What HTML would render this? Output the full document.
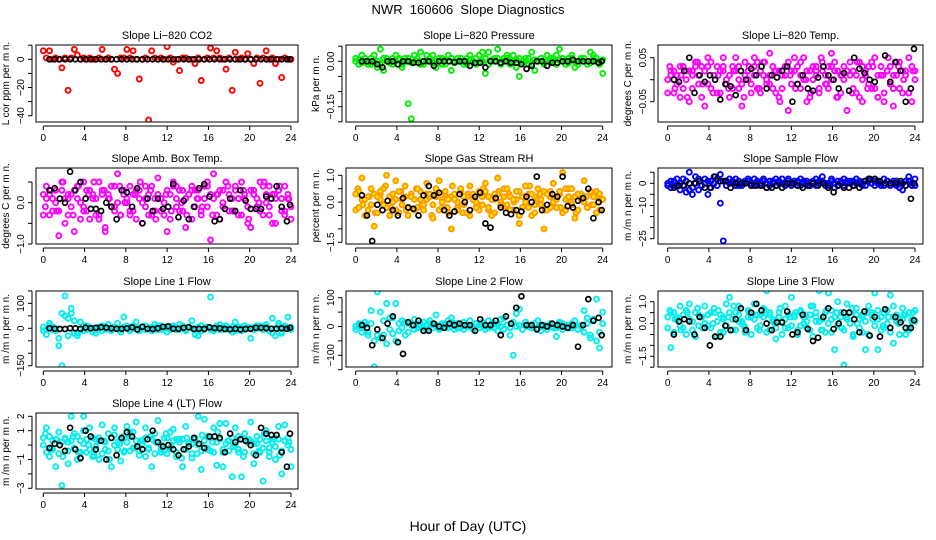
<!DOCTYPE html>
<html><head><meta charset="utf-8"><style>
html,body{margin:0;padding:0;background:#fff;}
svg{display:block;font-family:"Liberation Sans",sans-serif;}
</style></head><body>
<svg id="chart" width="936" height="540" viewBox="0 0 936 540" xmlns="http://www.w3.org/2000/svg">
<rect width="936" height="540" fill="#fff"/>
<text x="468" y="14" text-anchor="middle" font-size="13" style="white-space:pre">NWR  160606  Slope Diagnostics</text>
<text x="468" y="531" text-anchor="middle" font-size="14">Hour of Day (UTC)</text>
</svg>
<script>
const hoursC=[0,0.3,0.6,0.9,1.2,1.5,1.8,2.1,2.4,2.7,3.0,3.3,3.6,3.9,4.2,4.5,4.8,5.1,5.4,5.7,6.0,6.3,6.6,6.9,7.2,7.5,7.8,8.1,8.4,8.7,9.0,9.3,9.6,9.9,10.2,10.5,10.8,11.1,11.4,11.7,12.0,12.3,12.6,12.9,13.2,13.5,13.8,14.1,14.4,14.7,15.0,15.3,15.6,15.9,16.2,16.5,16.8,17.1,17.4,17.7,18.0,18.3,18.6,18.9,19.2,19.5,19.8,20.1,20.4,20.7,21.0,21.3,21.6,21.9,22.2,22.5,22.8,23.1,23.4,23.7,24.0];
const hoursB=[0.6,1.1,1.6,2.1,2.6,3.1,3.6,4.1,4.6,5.1,5.6,6.1,6.6,7.1,7.6,8.1,8.6,9.1,9.6,10.1,10.6,11.1,11.6,12.1,12.6,13.1,13.6,14.1,14.6,15.1,15.6,16.1,16.6,17.1,17.6,18.1,18.6,19.1,19.6,20.1,20.6,21.1,21.6,22.1,22.6,23.1,23.6,23.9];
const hoursE=[0.2,0.7,1.3,1.9,2.4,2.9,3.4,3.9,4.4,4.9,5.4,5.9,6.4,6.9,7.4,7.9,8.4,8.9,9.4,9.9,10.4,10.9,11.4,11.9,12.4,12.9,13.4,13.9,14.4,14.9,15.4,15.9,16.4,16.9,17.4,17.9,18.4,18.9,19.4,19.9,20.4,20.9,21.4,21.9,22.4,22.9,23.4,23.8];
const xTicks=[0,4,8,12,16,20,24];

const co2A=[6,1,6,0,1,0,-6,1,-22,1,7,3,0,1,0,1,0,0,1,7,0,1,0,-7,-10,1,1,7,1,6,0,-14,0,1,-43,6,1,0,1,0,9,1,-2,0,-8,1,1,0,0,-3,1,-15,0,1,8,1,6,1,0,-7,1,-22,5,0,1,0,4,0,-3,1,-17,1,6,0,1,-3,0,-13,1,0,0];
const co2K=[0,0,0,0,0,0,0,0,0,0,0,0,0,0,0,0,0,0,0,0,0,0,0,0,0,0,0,0,0,0,0,0,0,0,0,0,0,0,0,0,0,0,0,0,0,0,0,0];
const presA=[0.01,-0.01,0.02,0,-0.01,0.01,0.02,-0.02,0.04,-0.03,0.01,0,-0.01,0.02,0.01,-0.02,0.01,-0.14,-0.19,0.02,0,0.03,-0.01,0.02,0,0.02,-0.02,0,0.01,-0.01,0.02,-0.03,0,0.01,0,-0.01,0.01,0.02,0,-0.01,0.02,0.03,-0.04,0.03,0,0.01,0.04,-0.01,0.01,0.02,0,0.02,-0.02,-0.05,0,0.01,-0.01,0.03,-0.03,0,0.01,-0.01,0.02,0,0.01,0.02,0.04,0,-0.01,0.01,0.02,-0.02,0,0.01,0,-0.01,0.03,0.02,0.01,0,-0.04];
const presB=[0,0.005,-0.005,0.01,0,-0.01,0.005,0,-0.01,0.01,0,-0.005,0.01,0,0.005,-0.01,0,0.01,-0.005,0,0.01,-0.01,0,0.005,0.01,-0.005,0,0.01,-0.01,0.005,0,0.01,-0.005,0,0.01,0,-0.01,0.005,0,0.01,-0.005,0,0.01,-0.01,0.005,0,0.01,-0.005,0,0.01,-0.01,0,0.005,0.01,-0.005,0,0.01,-0.01,0.005,0,0.01,-0.005,0,0.01,0,-0.01,0.005,0.01,0,-0.005,0.01,0,-0.01,0.005,0.01,0,-0.005,0.01,0,-0.01,0.005];
const presK=[0,0,0,-0.01,-0.02,0,0,-0.01,0,0,-0.005,-0.005,0,0,-0.015,0,0,0,-0.003,0,0,-0.015,-0.005,-0.005,-0.02,0,0,-0.005,0,-0.005,-0.005,-0.01,-0.025,-0.015,0,0,-0.015,-0.005,-0.005,0,0,0.005,0,0,0,0,-0.005,0];
const tempA=[0,0.02,-0.03,0.01,0.03,-0.02,0.02,-0.05,0.01,0.04,-0.01,0.03,-0.06,0.05,-0.02,0.01,0.03,-0.03,0.02,0,-0.04,0.03,0.05,-0.02,-0.06,0.01,0.02,-0.01,0.03,0.04,-0.03,0.01,0,0.06,-0.02,0.02,-0.04,0.01,0.03,-0.07,0.02,0.05,-0.01,0.01,0.05,-0.05,0.02,0,0.03,-0.03,0.04,0.01,-0.02,0.06,0.02,-0.04,0.01,0.03,-0.07,0.01,0.02,-0.03,0.04,-0.05,0.01,0.03,-0.02,0.05,-0.04,0.01,-0.05,0.02,0.03,-0.06,0.01,0.04,-0.03,0.02,0.05,-0.05,0.02];
const tempB=[-0.03,0.01,0.02,-0.01,-0.04,0.03,0,0.02,-0.02,0.03,0.01,-0.04,0.02,-0.01,0.04,0.01,-0.03,0.02,0.03,-0.01,0.01,-0.02,0.02,0.03,-0.01,0.04,0,-0.03,0.05,-0.02,0.02,0.04,-0.01,0.01,0.03,-0.03,0.02,-0.02,0.01,0.04,-0.01,0.02,0.03,-0.02,0,0.02,-0.04,0.03,0.01,-0.02,0.02,-0.01,0.03,0,0.04,0.02,-0.03,0,0.02,0.04,-0.02,0.01,-0.04,0.03,0.02,-0.01,0.04,-0.02,0.01,0.03,-0.03,0.02,-0.01,0.01,0.04,-0.02,0.02,0.01,-0.03,0.03,0];
const tempC=[0.03,-0.02,0.01,-0.04,0.02,0.04,-0.01,0.03,-0.03,0.01,0.05,-0.02,0.02,0,-0.04,0.03,0.01,-0.02,0.04,-0.01,0.02,-0.05,0.03,0.01,-0.02,0.04,0,-0.03,0.02,0.05,-0.01,0.03,-0.04,0.01,0.02,-0.03,0.04,0,-0.02,0.03,-0.04,0.01,0.05,-0.02,0.03,0,-0.03,0.02];
const tempK=[0,-0.005,0.02,0.05,-0.03,0.01,-0.005,0.01,0,-0.045,-0.01,-0.015,-0.035,0.02,0,0.025,0.01,0.03,-0.02,0.01,0.005,0.02,0.03,-0.05,-0.01,0.01,-0.02,-0.025,0.005,0.03,0.01,0,-0.02,0.015,-0.025,0.05,0.025,0.015,0,-0.005,-0.11,0.055,-0.005,0.04,0.02,-0.05,-0.02,0.07];
const ambA=[0.2,0.4,-0.3,0.1,0.3,-0.2,0.5,-0.5,0.2,-0.1,0.3,0.1,-0.4,0.5,-0.2,0.3,0.1,-0.3,0.5,0.2,-0.6,0.1,0.4,-0.1,0.7,-0.3,0.2,0,0.4,-0.2,0.3,0.1,-0.5,0.4,0.2,-0.3,0.1,0.6,-0.2,0,0.3,-0.4,0.5,0.1,-0.2,0.3,-0.6,0.2,0.4,-0.1,0.3,-0.3,0.1,0.4,-0.9,0.7,0.2,-0.4,0.3,0.5,-0.2,0.1,0.4,-0.3,0.5,0.1,-0.5,0.3,0.2,-0.1,0.5,-0.3,0.2,0.4,-0.5,0.1,0.3,-0.2,0.4,0.1,-0.1];
const ambB=[-0.3,0.1,0.2,-0.2,0,-0.8,0.3,0.1,-0.3,0.2,-0.7,0.4,0,-0.2,0.3,-0.4,0.2,0.1,-0.3,0.3,-0.7,0.2,-0.1,0.4,0,-0.3,0.3,0.1,-0.2,0.2,-0.4,0.3,0,0.1,-0.3,0.4,-0.2,0.2,0.1,-0.3,-0.7,0.2,0.4,-0.1,0.3,-0.2,0.1,0.2,-0.4,0.3,0.1,-0.2,0.4,-0.1,0.2,0.1,-0.3,0.3,-0.1,0.5,0.2,-0.2,0.3,0.1,-0.3,0.2,-0.1,-0.6,0.3,0.1,-0.2,0.4,0,-0.3,0.2,-0.5,0.3,0.1,-0.2,0.2,-0.4];
const ambC=[-0.1,0.3,-0.2,0.5,0.1,-0.3,0.4,-0.1,0.2,0.5,-0.4,0.3,0.1,-0.2,0.4,0,-0.3,0.2,0.5,-0.1,0.3,-0.4,0.1,0.2,-0.2,0.4,0,-0.3,0.3,0.1,-0.1,0.5,-0.3,0.2,0,0.4,-0.2,0.1,0.3,-0.4,0.2,0,0.5,-0.1,0.2,0.4,-0.3,0.1];
const ambK=[0.3,0.35,0.1,0.0,0.75,0.3,0.5,0.1,-0.15,-0.15,-0.2,0.0,-0.1,-0.4,0.3,0.25,-0.1,0.35,-0.5,0.1,-0.2,0.1,-0.15,-0.1,0.45,-0.35,0.05,-0.4,-0.1,0.35,0.45,0.15,-0.45,-0.4,-0.15,0.1,-0.2,0.3,0.05,-0.15,-0.15,-0.15,0.15,0.1,0.4,-0.1,-0.45,-0.05];
const rhA=[0.3,-0.2,0.9,0.1,-0.3,0.5,-0.9,0.2,0.4,-0.1,1.0,-0.5,0.3,0.8,-0.4,0.1,0.6,-0.2,0.2,-0.3,0.5,0.1,-0.1,0.7,0.3,-0.6,0.2,0.8,-0.2,0.4,0.1,-1.0,0.3,-0.3,0.5,0.2,-0.4,0.6,0.1,-0.2,0.4,-0.1,0.7,0.2,-0.5,0.3,0.9,-0.1,0.2,0.5,-0.3,0.1,0.4,-0.8,0.2,0.6,-0.2,0.3,-0.4,0.5,0.1,-1.0,0.3,-0.2,0.7,0.1,0.4,1.1,-0.3,0.2,0.5,-0.6,0.3,0.1,0.8,-0.2,0.4,0.2,-0.4,0.3,0.1];
const rhB=[-0.3,0.4,0.1,-0.5,0.2,-0.1,0.3,-0.4,0.1,0.5,-0.2,0.2,0,-0.3,0.4,-0.1,0.2,-0.5,0.3,0.1,-0.2,0.4,-0.3,0.1,0.2,-0.1,0.5,-0.3,0,0.3,-0.4,0.2,0.1,-0.2,0.4,-0.1,0.2,-0.5,0.3,0,-0.3,0.2,0.4,-0.2,0.1,-0.4,0.3,0,0.5,-0.1,0.2,-0.3,0.1,0.4,-0.2,0,0.3,-0.5,0.2,0.1,-0.1,0.4,-0.3,0.2,0,-0.2,0.3,-0.4,0.1,0.5,-0.1,0.2,-0.3,0.3,0,-0.2,0.4,-0.1,0.2,-0.3,0.1];
const rhC=[0.5,-0.1,0.2,-0.4,0.3,0.6,-0.2,0.1,0.4,-0.3,0.2,0.5,-0.1,0.3,-0.5,0.4,0.1,-0.2,0.6,0,-0.4,0.3,0.2,-0.1,0.5,-0.3,0.1,0.4,-0.2,0.3,0,-0.5,0.2,0.6,-0.1,0.3,-0.3,0.4,0.1,-0.2,0.5,0,-0.4,0.3,0.2,-0.1,0.4,0.1];
const rhK=[0.25,-0.5,-1.45,-0.1,-0.3,0.05,-0.3,-0.5,0.15,-0.2,-0.25,-0.5,0.25,0.6,0.25,0.35,-0.3,-0.5,-0.35,0.3,0.0,-0.3,0.2,0.35,-0.8,-0.95,0.15,-0.2,-0.4,-0.45,-0.3,-0.35,0.2,0.0,0.95,-0.3,-0.1,0.3,0.2,0.95,-0.15,-0.2,0.05,0.15,0.5,-0.6,0.0,-0.3];
const sfA=[0,1,-1,2,0,-1,1,-3,-5,3,2,-1,0,1,-2,3,2,-9,-26,1,0,1,2,-1,0,1,2,0,-1,1,0,2,-2,1,0,2,1,0,-1,2,0,1,-1,2,0,1,-1,0,2,1,3,-1,0,1,-2,1,0,2,1,0,1,2,0,-1,1,2,0,1,0,-1,2,1,0,1,-1,-2,0,1,3,-1,2];
const sfB=[-1,-2,1,-1,-3,2,-4,5,-2,0,-3,-1,2,-5,1,0,-1,4,1,-1,2,0,-1,1,-1,0,1,-1,2,0,-1,1,0,-1,1,-1,0,2,0,1,-1,0,1,-1,1,0,-1,1,-1,0,1,0,-1,2,0,-1,1,-1,0,1,-1,0,1,0,-1,1,0,-1,1,0,-1,1,-1,0,1,0,-3,-1,1,0,-1];
const sfK=[-2,-1,-1,0,0,1,-2,-2,3,1,1,-2,0,0,0,-1,-1,-1,-2,-2,-1,-2,0,0,-1,-2,-1,0,-1,0,-2,-4,-1,-2,-2,-1,-2,1,2,2,1,0,0,0,1,-1,-7,0];
const l1A=[-10,-25,20,5,-10,-70,-150,130,40,80,30,-20,25,-10,10,5,-15,-20,0,10,-5,15,-10,5,20,-15,45,0,-10,10,25,-5,5,10,0,-10,15,-5,10,0,-15,5,10,-5,15,0,-10,5,30,-25,-30,10,0,5,125,-10,0,15,-5,10,0,-15,25,5,-10,10,0,-40,5,0,10,-5,15,-10,40,-30,20,-20,10,45,5];
const l1B=[5,-5,10,-5,0,-40,60,50,-30,60,-20,-30,-5,10,-5,5,0,-5,5,-10,5,0,-5,5,0,-5,5,10,-5,0,5,-10,5,-5,0,5,-5,10,-5,5,0,-5,5,0,-5,10,-5,5,0,-5,5,-10,0,5,-5,0,10,-5,5,0,-5,5,-10,0,5,-5,5,0,-5,10,0,-5,5,-10,-20,0,10,-15,5,0,-5];
const l1K=[0,-2,-3,-3,0,0,-2,3,0,2,4,3,0,-2,-2,0,4,-5,6,-2,-3,0,6,8,-2,-2,2,4,-3,-2,-3,4,1,0,-3,-4,-2,-5,-3,-2,2,2,1,-2,-2,0,-2,2];
const l2A=[0,10,-20,5,-30,55,-140,120,50,-30,80,-10,30,80,-15,20,-30,10,5,25,-5,10,15,-10,20,5,40,-5,10,0,20,30,-10,10,-5,15,0,20,-10,10,5,15,-10,20,0,10,-15,25,30,5,-30,-100,45,60,-10,15,5,-5,10,20,-15,5,0,10,-5,-35,15,10,0,-5,10,20,-10,5,55,30,-40,25,95,-75,50];
const l2B=[-10,5,-5,15,-20,10,-50,-30,-40,20,-60,30,-25,-50,10,-5,15,-20,5,-10,10,0,-5,5,10,-5,5,-10,5,10,-5,0,10,-5,5,-10,5,0,-5,10,-5,5,0,-5,10,-5,5,0,-10,5,-5,15,0,5,-10,5,0,-5,10,-5,0,5,-10,5,0,-5,10,-10,5,0,-5,5,-10,0,-20,10,-30,20,-50,-20,10];
const l2K=[5,-5,-65,-10,-40,10,35,-55,-95,15,5,20,-15,-15,10,0,-5,10,5,10,5,5,-15,25,5,5,20,-30,35,10,65,105,5,5,-10,5,0,10,5,0,-5,5,-70,5,95,20,30,-30];
const l3A=[0.3,-1.1,0.5,0.2,0.8,-0.2,0.6,0.9,0.1,-0.6,0.4,0.3,0.8,-0.1,0.5,0.7,-0.6,0.4,0.2,0.9,1.2,-0.3,0.5,0.8,0.1,-0.4,0.6,0.3,0.9,-0.2,0.4,0.7,1.5,-0.3,0.2,-0.7,0.5,0.1,0.8,-0.2,1.2,0.4,-0.5,0.6,0.3,0.1,-0.3,0.8,0.5,1.5,0.2,-0.4,1.4,0.6,-1.2,1.0,0.3,-1.9,0.9,0.5,-0.5,0.7,0.2,0.4,-1.2,0.8,0.5,1.4,-1.2,0.3,-0.2,0.6,1.3,-0.9,0.4,0.2,0.7,-0.5,0.5,0.1,0.6];
const l3B=[-0.2,0.5,-0.4,0.3,-0.1,0.4,-0.5,0.2,-0.3,0.5,-0.1,0.3,0,0.4,-0.2,0.5,0.1,-0.4,0.3,-0.1,0.5,0.2,-0.3,0.4,0,-0.2,0.3,-0.5,0.2,0.4,-0.1,0.3,-0.4,0.5,0.1,-0.2,0.3,-0.5,0.2,0.4,-0.1,0.3,-0.3,0.5,0,-0.2,0.4,-0.6,0.3,0.1,-0.3,0.5,0,-0.4,0.3,-0.1,0.5,-0.3,0.2,0,-0.6,0.4,-0.2,0.3,0.1,-0.5,0.4,-0.1,0.2,-0.3,0.5,0,-0.4,0.3,0.1,-0.5,0.2,0.4,-0.3,0.2,0.1];
const l3C=[0.6,0.2,-0.3,0.5,0.1,0.7,-0.2,0.4,0,0.6,-0.4,0.3,0.8,0.1,-0.1,0.5,0.2,-0.3,0.6,0.4,0,0.7,-0.2,0.3,0.5,-0.1,0.4,0.8,0.1,-0.3,0.6,0.2,0.5,-0.2,0.3,0.7,0,-0.4,0.5,0.2,0.6,-0.1,0.3,0.8,0,0.4,-0.2,0.5];
const l3K=[-0.5,0.1,0.2,0.1,-0.5,0.3,-0.2,-1.0,-0.6,-0.6,-0.1,-0.3,0.2,0.7,-0.3,0.5,0.9,0.6,0,-0.3,0.05,0.05,0.55,-0.5,-0.4,0.4,-0.25,-0.8,-0.65,0.3,0.7,-0.25,0.0,0.5,0.5,0.2,-0.4,0.55,-0.55,0.3,-0.6,0.65,-0.2,0.3,0.05,-0.2,-0.2,0.15];
const l4A=[0.5,1.2,-0.8,0.3,-1.5,0.9,-2.8,0.4,-1.3,2,0.8,-1.0,0.3,2,-0.5,1.2,-0.8,0.4,-1.0,1.4,-0.3,0.8,-1.5,1.2,0.2,-1.1,0.6,1.3,-0.4,0.9,1.6,-0.7,0.3,1.2,-0.2,-1.5,0.8,1.7,-0.3,0.5,-0.6,0.9,1.1,-0.8,0.4,-1.5,1.3,0.2,-0.9,0.5,2.0,-1.7,1.8,0.6,-0.4,1.2,-1.4,1.5,-1.5,1.5,0.3,-2.2,1.2,-0.5,-2.2,0.8,0.2,1.6,-1.3,0.6,-0.5,-2.5,1.0,-0.8,0.4,-1.0,1.3,-2.0,1.4,0.5,-1.5];
const l4B=[0,-0.5,0.6,-0.3,0.4,-0.6,0.2,0.5,-0.4,0.3,-0.2,0.6,-0.5,0.1,0.4,-0.3,0.5,-0.1,0.3,-0.6,0.2,-0.4,0.5,0,-0.3,0.4,-0.5,0.2,0.6,-0.2,0.3,-0.4,0.1,0.5,-0.3,0.4,-0.6,0.2,0,-0.4,0.5,-0.2,0.3,-0.5,0.2,0.4,-0.3,0.1,-0.6,0.4,0,-0.4,0.3,-0.2,0.5,-0.5,0.2,0.4,-0.3,0.1,-0.4,0.5,0,-0.3,0.4,-0.5,0.2,0.3,-0.6,0.1,0.4,-0.2,0.3,-0.5,0.2,-0.1,0.4,-0.4,0.3,0,-0.3];
const l4C=[0.8,-0.3,0.4,-0.8,0.2,0.6,-0.5,1.0,0,-0.7,0.5,0.3,-1.0,0.7,0.1,-0.4,0.9,-0.2,0.3,-0.8,0.6,0.2,-0.5,0.8,-0.1,0.4,-0.9,0.5,0.1,-0.6,0.7,-0.3,0.2,0.9,-0.5,0.3,-0.1,0.6,-0.8,0.4,0.1,-0.4,0.8,-0.2,0.5,-0.7,0.3,0.2];
const l4K=[-0.2,0.1,0,-0.4,1.2,-0.3,-0.9,1.0,0.6,-0.3,0.3,-1.0,0.5,-0.7,0.5,0.9,0.6,-0.1,-0.3,0.4,1.0,0.2,-0.1,0.0,-0.3,-0.7,-0.3,-0.1,0.5,0.1,-0.2,0.6,0.6,0.5,-0.5,0.8,0.2,0.4,0.3,0.0,-0.7,1.2,0.8,0.7,0.7,-0.5,-1.5,0.8];

const NS="http://www.w3.org/2000/svg";
const svg=document.getElementById('chart');
function mk(tag,attrs,parent){const e=document.createElementNS(NS,tag);for(const k in attrs)e.setAttribute(k,attrs[k]);(parent||svg).appendChild(e);return e;}
const cols=[{l:36,r:298,x0:43.3,x24:291},{l:346,r:612,x0:355.7,x24:602.7},{l:658,r:923,x0:667.7,x24:915}];
const rows=[{t:45,b:122},{t:168,b:244},{t:291,b:367},{t:413,b:489}];
const panels=[
 {id:'co2',title:'Slope Li\u2212820 CO2',yt:'L cor ppm per m n.',c:0,r:0,vA:0,pA:59.3,vB:-40,pB:115.7,ticks:[10,0,-10,-20,-30,-40],labels:['0','\u221220','\u221240'],lv:[0,-20,-40],col:'#ff0000',fill:'none',A:co2A,B:null,E:null,K:co2K},
 {id:'pressure',title:'Slope Li\u2212820 Pressure',yt:'kPa per m n.',c:1,r:0,vA:0,pA:61.3,vB:-0.15,pB:106.7,ticks:[0.05,0,-0.05,-0.1,-0.15,-0.2],labels:['0.00','\u22120.15'],lv:[0,-0.15],col:'#00ee00',fill:'none',A:presA,B:presB,E:null,K:presK},
 {id:'temp',title:'Slope Li\u2212820 Temp.',yt:'degrees C per m n.',c:2,r:0,vA:0.05,pA:57.7,vB:-0.05,pB:101.7,ticks:[0.05,0,-0.05],labels:['0.05','\u22120.05'],lv:[0.05,-0.05],col:'#ff00ff',fill:'none',A:tempA,B:tempB,E:tempC,K:tempK},
 {id:'amb-box-temp',title:'Slope Amb. Box Temp.',yt:'degrees C per m n.',c:0,r:1,vA:0,pA:202.7,vB:-1,pB:244,ticks:[0.5,0,-0.5,-1],labels:['0.0','\u22121.0'],lv:[0,-1],col:'#ff00ff',fill:'none',A:ambA,B:ambB,E:ambC,K:ambK},
 {id:'gas-stream-rh',title:'Slope Gas Stream RH',yt:'percent per m n.',c:1,r:1,vA:1,pA:175.3,vB:-1.5,pB:242.3,ticks:[1,0.5,0,-0.5,-1,-1.5],labels:['1.0','0.0','\u22121.5'],lv:[1,0,-1.5],col:'#ff9900',fill:'#ffee00',A:rhA,B:rhB,E:rhC,K:rhK},
 {id:'sample-flow',title:'Slope Sample Flow',yt:'m /m n per m n.',c:2,r:1,vA:0,pA:183.3,vB:-25,pB:238.7,ticks:[5,0,-5,-10,-15,-20,-25],labels:['0','\u221210','\u221225'],lv:[0,-10,-25],col:'#0000ff',fill:'none',A:sfA,B:sfB,E:null,K:sfK},
 {id:'line1-flow',title:'Slope Line 1 Flow',yt:'m /m n per m n.',c:0,r:2,vA:0,pA:328.3,vB:-150,pB:365.7,ticks:[150,100,50,0,-50,-100,-150],labels:['100','0','\u2212150'],lv:[100,0,-150],col:'#00eeee',fill:'none',A:l1A,B:l1B,E:null,K:l1K},
 {id:'line2-flow',title:'Slope Line 2 Flow',yt:'m /m n per m n.',c:1,r:2,vA:100,pA:297.7,vB:-100,pB:355.3,ticks:[100,50,0,-50,-100,-150],labels:['100','0','\u2212100'],lv:[100,0,-100],col:'#00eeee',fill:'none',A:l2A,B:l2B,E:null,K:l2K},
 {id:'line3-flow',title:'Slope Line 3 Flow',yt:'m /m n per m n.',c:2,r:2,vA:1,pA:301.7,vB:-1.5,pB:356.3,ticks:[1,0.5,0,-0.5,-1,-1.5,-2],labels:['1.0','0.0','\u22121.5'],lv:[1,0,-1.5],col:'#00eeee',fill:'none',A:l3A,B:l3B,E:l3C,K:l3K},
 {id:'line4-flow',title:'Slope Line 4 (LT) Flow',yt:'m /m n per m n.',c:0,r:3,vA:2,pA:416.3,vB:-3,pB:488.3,ticks:[2,1,0,-1,-2,-3],labels:['2','1','\u22121','\u22123'],lv:[2,1,-1,-3],col:'#00eeee',fill:'none',A:l4A,B:l4B,E:l4C,K:l4K}
];
panels.forEach(p=>{
 const C=cols[p.c],R=rows[p.r];
 const g=mk('g',{});
 
 
 const xs=h=>C.x0+h/24*(C.x24-C.x0);
 const ys=v=>p.pA+(v-p.vA)*(p.pB-p.pA)/(p.vB-p.vA);
 const clip='clip-'+p.id;
 const cp=mk('clipPath',{id:clip},g);mk('rect',{x:C.l,y:R.t,width:C.r-C.l,height:R.b-R.t},cp);
 const t=mk('text',{x:(C.l+C.r)/2,y:R.t-6,'text-anchor':'middle','font-size':11},g);t.textContent=p.title;
 
 
 const pts=mk('g',{'clip-path':'url(#'+clip+')'},g);
 
 
 const drawSet=(arr,hrs,stroke,fill,sw)=>{if(!arr)return;arr.forEach((v,i)=>{if(i>=hrs.length)return;const c=mk('circle',{cx:xs(hrs[i]).toFixed(1),cy:ys(v).toFixed(1),r:2.5,fill:fill,stroke:stroke,'stroke-width':sw},pts);
  
  });};
 drawSet(p.E,hoursE,p.col,p.fill,1.9);
 drawSet(p.B,hoursC,p.col,p.fill,1.9);
 drawSet(p.A,hoursC,p.col,p.fill,1.9);
 drawSet(p.K,hoursB,'#000','none',1.7);
 const box=mk('rect',{x:C.l,y:R.t,width:C.r-C.l,height:R.b-R.t,fill:'none',stroke:'#000','stroke-width':1},g);
 
 
 const ax=C.l-4;
 const ty=p.ticks.map(ys);
 mk('line',{x1:ax,x2:ax,y1:Math.min(...ty),y2:Math.max(...ty),stroke:'#000'},g);
 p.ticks.forEach(v=>mk('line',{x1:ax-4,x2:ax,y1:ys(v),y2:ys(v),stroke:'#000'},g));
 p.labels.forEach((s,i)=>{const y=ys(p.lv[i]);const lt=mk('text',{x:0,y:0,transform:'translate('+(ax-8)+','+y+') rotate(-90)','text-anchor':'middle','font-size':10},g);lt.textContent=s;
  
  });
 const yt=mk('text',{x:0,y:0,transform:'translate('+(C.l-27)+','+((R.t+R.b)/2)+') rotate(-90)','text-anchor':'middle','font-size':10},g);yt.textContent=p.yt;
 
 
 const by=R.b+4;
 mk('line',{x1:xs(0),x2:xs(24),y1:by,y2:by,stroke:'#000'},g);
 xTicks.forEach(h=>{mk('line',{x1:xs(h),x2:xs(h),y1:by,y2:by+4,stroke:'#000'},g);
  const xt=mk('text',{x:xs(h),y:R.b+19,'text-anchor':'middle','font-size':10},g);xt.textContent=h;
  
  });
});
</script>
</body></html>
